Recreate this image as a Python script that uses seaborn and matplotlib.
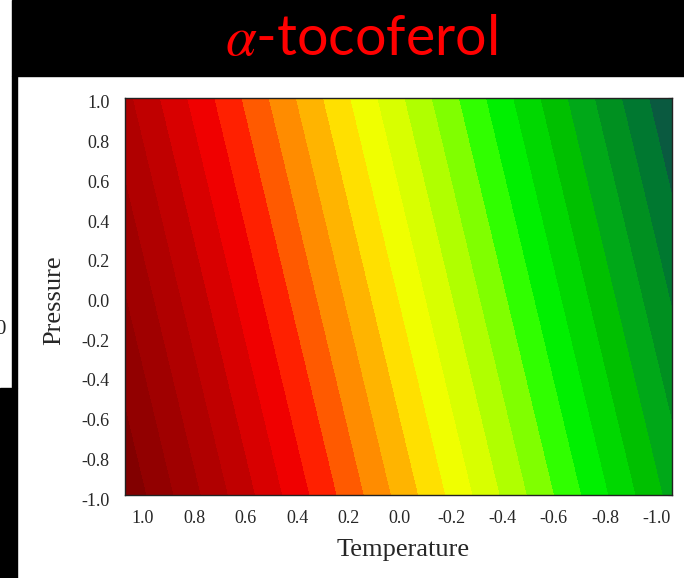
import numpy as np
import matplotlib
matplotlib.use("Agg")
import matplotlib.pyplot as plt
import matplotlib.transforms as mtransforms
from matplotlib.patches import Rectangle
import seaborn as sns

# ---- data ----
title_text = r"$\alpha$-tocoferol"
x_label = "Temperature"
y_label = "Pressure"
x_ticks = [1.0, 0.8, 0.6, 0.4, 0.2, 0.0, -0.2, -0.4, -0.6, -0.8, -1.0]
y_ticks = [1.0, 0.8, 0.6, 0.4, 0.2, 0.0, -0.2, -0.4, -0.6, -0.8, -1.0]
x_limits = (1.07, -1.06)
y_limits = (-1.0, 1.0)
# fitted response surface coefficients (coded units)
coef_b0 = 0.04
coef_temperature = 0.945
coef_pressure = -0.175
contour_levels = [-1.15, -1.05, -0.95, -0.85, -0.75, -0.65, -0.55, -0.45, -0.35,
                  -0.25, -0.15, -0.05, 0.05, 0.15, 0.25, 0.35, 0.45, 0.55, 0.65,
                  0.75, 0.85, 0.95, 1.05, 1.15, 1.25]
band_colors = ["#0a5a40", "#007830", "#009020", "#00a818", "#00c000", "#00d800",
               "#00f000", "#30ff00", "#80ff00", "#b0ff00", "#d8ff00", "#f0ff00",
               "#ffe000", "#ffb400", "#ff8c00", "#ff5a00", "#ff2000", "#f00000",
               "#d80000", "#c00000", "#b00000", "#a00000", "#920000", "#820000"]

sns.set_theme(style="white")
plt.rcParams["font.family"] = ["Liberation Serif", "DejaVu Serif"]
plt.rcParams["mathtext.fontset"] = "stix"

fig = plt.figure(figsize=(6.84, 5.78), dpi=100, facecolor="white")
ax = fig.add_axes([125 / 684, 1 - 495 / 578, 547 / 684, 397 / 578])

T = np.linspace(min(x_limits), max(x_limits), 300)
P = np.linspace(min(y_limits), max(y_limits), 300)
TT, PP = np.meshgrid(T, P)
Z = coef_b0 + coef_temperature * TT + coef_pressure * PP

palette = sns.color_palette(band_colors)
ax.contourf(TT, PP, Z, levels=contour_levels, colors=palette, antialiased=False)

ax.set_xticks(x_ticks)
ax.set_yticks(y_ticks)
ax.set_xticklabels([f"{v:.1f}" for v in x_ticks])
ax.set_yticklabels([f"{v:.1f}" for v in y_ticks])
ax.set_xlim(*x_limits)
ax.set_ylim(*y_limits)
ax.tick_params(axis="x", bottom=False, top=True, direction="in", length=3,
               width=0.8, color="#333333", labelsize=13, pad=11)
ax.tick_params(axis="y", left=False, right=True, direction="in", length=3,
               width=0.8, color="#333333", labelsize=13, pad=11)
shift = mtransforms.ScaledTranslation(0, -4 / 100, fig.dpi_scale_trans)
for lab in ax.get_yticklabels():
    lab.set_transform(lab.get_transform() + shift)
for s in ax.spines.values():
    s.set_color("#222222")
    s.set_linewidth(1.0)

ax.set_xlabel(x_label, fontsize=19)
ax.set_ylabel(y_label, fontsize=19)
ax.xaxis.set_label_coords(0.508, -0.11)
ax.yaxis.set_label_coords(-0.11, 0.491)

# slide background remnants
fig.add_artist(Rectangle((12 / 684, 1 - 76 / 578), 1, 76 / 578,
                         transform=fig.transFigure, color="black", zorder=-1))
fig.add_artist(Rectangle((12 / 684, 1 - 388 / 578), 5 / 684, 312 / 578,
                         transform=fig.transFigure, color="black", zorder=-1))
fig.add_artist(Rectangle((0, 0), 17 / 684, 1 - 388 / 578,
                         transform=fig.transFigure, color="black", zorder=-1))
fig.text(-5 / 684, 1 - 329 / 578, "0", fontsize=15, ha="left", va="center",
         color="#222222")

fig.text(361 / 684, 1 - 55 / 578, title_text, color="#ff0000", fontsize=40,
         ha="center", va="baseline", family=["Lato", "DejaVu Sans"])

fig.savefig("out.png", dpi=100, facecolor="white")
